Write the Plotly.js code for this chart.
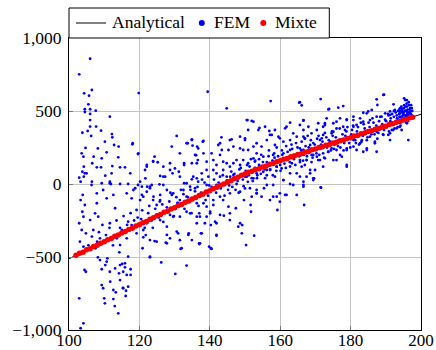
<!DOCTYPE html>
<html>
<head>
<meta charset="utf-8">
<script src="https://cdn.plot.ly/plotly-3.0.1.min.js"></script>
<style>html,body{margin:0;padding:0;background:#fff;}#chart{width:436px;height:350px;}</style>
</head>
<body>
<div id="chart"></div>
<script>
// Analytical curve
const analyticalX = [100, 110, 120, 130, 140, 150, 160, 170, 180, 190, 200];
const analyticalY = [-512, -395, -278, -162, -45, 70, 160, 240, 318, 397, 478];

// Mixte points (red band along the curve)
const mixteX = [102,103,104,105,106,107,108,109,110,111,112,113,114,115,116,117,118,119,120,121,122,123,124,125,126,127,128,129,130,131,132,133,134,135,136,137,138,139,140,141,142,143,144,145,146,147,148,149,150,151,152,153,154,155,156,157,158,159,160,161,162,163,164,165,166,167,168,169,170,171,172,173,174,175,176,177,178,179,180,181,182,183,184,185,186,187,188,189,190,191,192,193,194,195,196,197,197.6];
const mixteY = [-488,-475,-467,-451,-443,-428,-420,-405,-396,-382,-373,-358,-349,-335,-326,-311,-303,-287,-279,-265,-256,-241,-232,-218,-209,-194,-186,-171,-163,-148,-140,-125,-116,-102,-93,-78,-70,-55,-46,-32,-23,-9,0,14,23,37,46,60,69,81,87,99,105,117,123,135,141,153,159,170,175,186,191,202,207,218,223,234,239,250,255,265,270,281,286,297,301,312,317,328,333,344,349,360,364,375,380,391,396,407,412,423,428,439,444,455,458];

// FEM points (blue cloud)
const femX = [
102.9,106.0,106.5,104.3,105.5,104.5,106,107.6,104.5,106,106,103.8,105.3,106,106.3,107.7,109.1,111.6,112.2,112.3,119.8,119.6,118,114.1,112.8,110.2,108.2,104.7,103.6,104.1,107,110.7,114,109.3,106.6,107.9,109.1,112.3,114.5,115.9,117.4,112.1,110.3,104.5,102.9,103.3,104.2,105,103.8,104.2,106.5,109.3,111.6,111.9,114.5,116.8,119.6,121.7,122.1,124.3,125.2,123.9,120.7,130.6,129.2,133.7,135.1,136.1,136.6,132.7,131.2,129.4,126.8,125.9,127.3,128.7,130.1,131.5,133.4,134.9,136.3,125.7,123.5,122.2,105.7,
103.9,103.3,104.5,103.8,104.1,102.9,103.6,104.8,103.1,104.1,106,107.9,107.4,108.3,106.9,108.8,108,106.4,107.9,109.7,110.7,111.6,112.6,113.1,111.6,113.6,114.5,116.4,115,116.8,117.8,116.4,118.8,120.2,119.2,120.7,122.1,123,124,124.9,125.9,126.8,127.8,129.2,129.6,131,132.5,133.4,134.9,135.8,136.3,134.9,134,131,128.7,127.8,124.9,123,121.1,119.2,117.8,
104.8,104.4,109.3,108.8,110.7,111.6,114.5,115.4,116.4,117.5,115.9,116.8,115.4,114.5,113.1,109.3,109.7,110,110.2,112.6,112.6,114,102.9,104.1,103.3,
108.2,110.3,110.9,111.7,113.3,113,114.2,114.3,115.1,115.3,116.2,116.1,116.8,117.5,115.9,120.9,123,126.2,130.2,131.7,133.4,137,140.3,139.8,150.3,127.5,124.3,131.5,
137,137.5,140.5,141.9,141.5,142.9,144,148.1,149.2,149.1,152.6,151.7,151.6,149.7,153.3,154.7,157.1,159.2,159.9,161.8,164.7,166.8,166.6,162.8,159.9,158,155.4,145.7,145.3,147.4,143.8,140.1,139.1,137,136.3,138.6,140.3,141,138.2,
144.8,118.1,119.7,134.9,133.4,138,136.7,131.5,123.9,121.6,122.1,126.8,128.7,132.7,134.9,139.1,140.5,142.9,143.4,145.7,146.7,148.6,150,150.9,150.5,152.4,153.3,149.5,147.6,144.8,141.9,141,143.8,145.7,148.6,150.9,152.8,137.7,139.6,142.9,146.7,150,152.4,136.7,139.1,141.9,144.8,134.4,132.7,126.8,123,120.2,118.3,121.1,123.9,125.9,129.6,131.5,133.4,136.3,139.1,141,142.9,145.7,148.6,151.4,153.3,140.1,137.2,134.4,131.5,128.7,125.9,122.1,119.2,127.8,130.6,133.9,137.7,141.9,145.7,148.6,141.9,137.2,132,127.8,123,121.1,
157.3,165.4,166.1,171.5,173.9,176.5,177.9,189.3,187.4,187.6,192.2,195.2,196,183.6,185,182.7,180.8,178.9,176,172.7,170.4,166.6,162.8,161.4,158.5,155.7,153.8,152.4,157.1,159.9,163.7,166.6,168.9,171.8,174.6,178.4,181.7,185.5,188.8,191.2,194,196,196.9,
196.4,194.5,193.1,191.2,189.3,187.4,186.9,184.6,182.7,183.6,180.8,178.9,178.9,177,176,174.6,172.7,170.8,168.9,167,165.6,163.3,161.8,160.4,159,157.1,155.2,169.4,166.6,171.5,168.5,164.7,160.9,158.5,156.2,153.3,151.9,159,161.4,
173.7,189.5,191.2,184.6,186,180.8,178.9,177,175.1,172.7,170.8,168,166.6,172.2,175.1,177.9,180.8,183.6,187.4,189.8,192.6,194,195.5,196,194,192.1,191.2,190.7,188.8,187.4,186.9,185.5,184.6,183.1,181.7,180.8,178.9,178.9,177.5,176,175.1,173.7,172.2,171.3,169.4,167.5,166.6,169.9,167.5,166.6,171.6,169.6,166.1,
139.4,150.7,151.9,154.1,156.9,157.6,159.5,161.8,165.6,166.6,143.3,146.2,150,138.2,134.9,135.8,136.4,138.2,142.4,142.9,145.3,148.6,150.9,153.3,154.7,156.2,158.5,160.9,162.8,164.7,167,172.2,173.2,165.6,141,143.8,146.7,149.5,152.4,155.2,158,160.9,162.8,165.6,168.5,171.3,159,156.2,153.3,150.5,147.6,144.8,141.9,139.1,136.3,135.3,162.8,165.6,169.4,163.7,158,160.9,168.5,172.2,170.4,167.5,
140.5,141.2,141.8,142.5,143.1,143.7,144.2,144.9,145.5,146.1,146.8,147.3,147.9,148.4,149,149.6,150.2,150.8,151.3,151.9,
152.4,152.9,153.5,154,154.6,155.1,155.7,156.2,156.8,157.3,157.9,158.4,159,159.5,160.1,160.6,161.2,161.7,162.3,162.8,
163.4,163.9,164.5,165,165.6,166.1,166.7,167.2,167.8,168.3,168.9,169.4,170,170.5,171.1,171.6,172.2,172.7,173.3,173.8,
174.4,174.9,175.5,176,176.6,177.1,177.7,178.2,178.8,179.3,179.9,180.4,181,181.5,182.1,182.6,183.2,183.7,184.3,184.8,
185.4,185.9,186.5,187,187.6,188.1,188.7,189.2,189.8,190.3,190.9,191.4,192,192.5,193.1,193.6,194.2,194.7,195.3,195.8,
193.5,194,194.5,195,195.5,196,196.5,197,197.3,196.8,196.2,195.7,195.2,194.8,194.3,193.8,193.2,196.6,197.1,195.9,194.6,193.9,197.4,196.3,195.4,192.8,192.3,191.8,191.3,190.8,
120.5,121.5,122.5,123.5,124.5,125.5,126.5,127.5,128.5,129.5,130.5,131.5,132.5,133.5,134.5,135.5,136.5,137.5,138.5,139.5,
105.5,106.5,107.5,108.5,109.5,110.5,111.5,112.5,113.5,114.5,115.5,116.5,117.5,118.5,119.5,
145.2,145.8,146.4,147,147.6,148.2,148.8,149.4,150,150.6,
151.1,151.7,152.2,152.8,153.4,154,154.5,155.1,155.6,156.2,
156.7,157.2,157.8,158.3,158.9,159.4,160,160.5,161,161.6,
162.1,162.7,163.2,163.8,164.3,164.9,165.4,166,166.5,167,
167.6,168.1,168.7,169.2,169.8,170.3,170.9,171.4,172,172.5,
173.1,173.6,174.2,174.7,175.3,175.8,176.4,176.9,177.4,178,
178.5,179.1,179.6,180.2,180.7,181.3,181.8,182.4,182.9,183.5,
184,184.6,185.1,185.7,186.2,186.8,187.3,187.9,188.4,189,
189.5,190.1,190.6,191.2,191.7,192.3,192.8,193.4,193.9,194.4,
194.9,195.4,195.9,196.4,196.9,197.4,196.1,195.6,195.1,194.6,194.1,193.6,197.2,196.7,196.2,195.7,195.2,194.7,196.5,197.5,
120.8,121.8,122.8,123.8,124.8,125.8,126.8,127.8,128.8,129.8,130.8,131.8,132.8,133.8,134.8,135.8,136.8,137.8,138.8,139.8
];
const femY = [
751,858,644,621,546,512,512,502,493,480,438,351,363,393,329,393,365,461,342,320,623,205,272,256,267,290,244,247,210,187,187,217,183,176,142,114,114,123,114,114,73,73,57,73,43,16,50,73,84,119,16,5,16,0,0,0,-7,39,130,187,149,157,-18,329,256,279,263,197,164,142,84,73,119,55,50,96,107,50,5,32,39,-2,-7,-18,605,
-75,-110,-144,-190,-224,-269,-315,-338,-395,-429,-247,-132,-201,-224,-315,-372,-395,-7,-64,-41,-98,5,-75,-166,-269,-372,-418,-372,-315,-258,-98,-64,-29,-110,-178,-75,-53,-18,-87,-144,-110,-201,-41,-75,-224,-132,-41,-190,-110,-29,-269,-384,-338,-338,-372,-349,-395,-498,-315,-338,-281,
-601,-589,-584,-521,-532,-601,-555,-601,-623,-584,-543,-703,-714,-658,-578,-692,-714,-783,-817,-726,-788,-886,-783,-954,-988,
-502,-555,-509,-669,-742,-836,-612,-468,-548,-712,-731,-767,-498,-623,-571,-440,-502,-537,-616,-445,-559,-411,-440,-429,-418,-402,-391,-385,
-406,-338,-445,-354,-258,-212,-217,-292,-281,-338,-354,-190,-144,-110,-64,-87,-110,-178,-121,-75,-75,-144,-7,0,-64,-87,-29,-201,-155,-166,-110,-190,-224,-201,-224,-269,-281,-144,-132,
518,279,210,301,279,290,244,210,153,96,119,50,142,130,142,153,210,279,233,301,256,324,313,370,438,256,210,233,164,142,130,96,96,119,130,142,153,73,50,50,62,50,39,16,-7,-7,5,-18,5,-7,-29,16,-41,-87,-110,-75,-64,-110,-87,-132,-155,-110,-87,-64,-53,-29,-64,-201,-224,-201,-224,-212,-247,-269,-292,-292,-326,-349,-338,-269,-247,-269,-349,-406,-440,-406,-384,-365,
568,557,539,582,514,523,534,610,580,541,546,587,575,488,497,450,438,443,427,416,370,438,420,381,370,392,370,427,336,313,347,324,347,313,347,370,404,438,461,473,484,502,484,
301,370,381,347,336,221,290,244,279,221,256,130,233,199,164,244,176,164,199,130,164,142,164,107,119,96,84,39,16,-23,73,73,27,50,-7,-41,-87,-87,-75,
511,612,497,484,507,461,438,450,416,404,416,392,370,336,358,392,392,427,461,484,507,518,575,416,392,370,301,336,392,358,279,324,233,290,233,301,244,119,187,233,164,221,256,164,199,164,233,96,50,-18,-25,39,119,
632,438,432,384,363,336,324,392,404,434,320,306,301,295,306,199,256,210,267,199,233,244,233,279,256,301,267,290,301,324,313,392,450,560,164,153,142,164,176,187,199,210,233,244,267,301,119,96,73,50,39,50,73,96,142,50,73,50,27,-7,-7,27,96,119,187,164,
-20,30,-60,10,-30,60,-80,25,-10,85,40,-40,20,100,60,-15,90,15,120,40,
95,160,60,130,200,110,40,150,230,130,60,180,250,150,90,200,140,260,180,120,
240,170,280,210,150,290,200,260,330,220,150,280,240,310,200,270,210,350,250,300,
230,330,270,380,300,250,340,280,360,310,250,370,320,280,390,340,300,410,360,320,
390,340,420,370,310,430,380,340,440,400,360,450,410,380,470,430,400,490,450,420,
500,460,520,480,440,530,470,500,450,510,490,500,520,470,440,480,450,540,480,460,500,510,520,430,470,490,460,480,430,470,
-240,-300,-200,-250,-170,-230,-140,-190,-120,-170,-90,-150,-70,-120,-40,-100,-20,-60,10,-80,
-420,-360,-440,-330,-280,-350,-300,-420,-250,-300,-220,-280,-200,-250,-230,
-40,50,-20,70,0,-60,110,30,-30,130,
60,170,20,110,40,170,70,150,100,60,
190,100,160,210,90,190,130,230,170,110,
220,150,270,200,130,250,190,230,160,310,
190,250,300,180,270,210,330,240,290,180,
320,220,290,360,240,320,260,380,300,230,
330,390,280,340,400,300,360,270,420,330,
380,300,420,360,450,340,400,350,460,410,
370,430,480,410,370,500,430,390,460,530,
440,500,550,460,520,470,480,530,490,460,500,440,540,490,510,470,540,510,560,500,
-180,-350,-150,-300,-220,-120,-260,-160,-60,-220,-130,-40,-170,-90,-200,-50,-150,30,-110,-10
];

const xTicks = [100, 120, 140, 160, 180, 200];
const yTicks = [-1000, -500, 0, 500, 1000];
const legendNames = ['Analytical', 'FEM', 'Mixte'];

const FONT = 'Liberation Serif, Times New Roman, serif';
const FS = 17.5;

const traces = [
  {x: analyticalX, y: analyticalY, type: 'scatter', mode: 'lines', name: legendNames[0],
   line: {color: '#000', width: 1}, showlegend: false},
  {x: femX, y: femY, type: 'scatter', mode: 'markers', name: legendNames[1],
   marker: {color: '#0000ff', size: 2.8, line: {width: 0}}, showlegend: false},
  {x: mixteX, y: mixteY, type: 'scatter', mode: 'markers', name: legendNames[2],
   marker: {color: '#ff0000', size: 5.5, line: {width: 0}}, showlegend: false}
];

const axisCommon = {
  showgrid: true, gridcolor: '#c4c4c4', gridwidth: 1,
  showline: true, linecolor: '#000', linewidth: 1, mirror: true,
  ticks: 'inside', ticklen: 4, tickcolor: '#777', tickwidth: 1,
  zeroline: false,
  tickfont: {family: FONT, size: FS, color: '#000'}
};

// Legend drawn as a box above the plot area (paper coordinates)
const L = 69, W = 352, B = 330, H = 292;
const px = v => (v - L) / W;
const py = v => (B - v) / H;
const legY = 23;
const shapes = [
  {type: 'rect', xref: 'paper', yref: 'paper', x0: 0, x1: px(329.3), y0: 1, y1: py(8),
   line: {color: '#000', width: 1}, fillcolor: '#fff', layer: 'above'},
  {type: 'line', xref: 'paper', yref: 'paper', x0: px(76), x1: px(106), y0: py(legY), y1: py(legY),
   line: {color: '#000', width: 1}},
  {type: 'circle', xref: 'paper', yref: 'paper', x0: px(198.8), x1: px(204.8), y0: py(legY + 3), y1: py(legY - 3),
   line: {width: 0}, fillcolor: '#0000ff'},
  {type: 'circle', xref: 'paper', yref: 'paper', x0: px(260.3), x1: px(266.3), y0: py(legY + 3), y1: py(legY - 3),
   line: {width: 0}, fillcolor: '#ff0000'}
];
const legTextX = [109.5, 211.5, 272.5];
const annotations = legendNames.map((t, i) => ({
  text: t, xref: 'paper', yref: 'paper', x: px(legTextX[i]), y: py(legY - 0.5),
  xanchor: 'left', yanchor: 'middle', showarrow: false,
  font: {family: FONT, size: FS, color: '#000'}
}));

const layout = {
  width: 436, height: 350,
  margin: {l: 69, r: 15, t: 38, b: 20, pad: 0, autoexpand: false},
  paper_bgcolor: '#fff', plot_bgcolor: '#fff',
  font: {family: FONT, size: FS, color: '#000'},
  xaxis: Object.assign({}, axisCommon, {range: [100, 200], tickvals: xTicks, ticktext: xTicks.map(String),
    ticklabelstandoff: -5, tickfont: {family: FONT, size: 17, color: '#000'}}),
  yaxis: Object.assign({}, axisCommon, {range: [-1000, 1000], tickvals: yTicks, tickformat: ',d', ticklabelstandoff: 3}),
  showlegend: false,
  shapes: shapes,
  annotations: annotations
};

Plotly.newPlot('chart', traces, layout, {staticPlot: true, displayModeBar: false});
</script>
</body>
</html>
